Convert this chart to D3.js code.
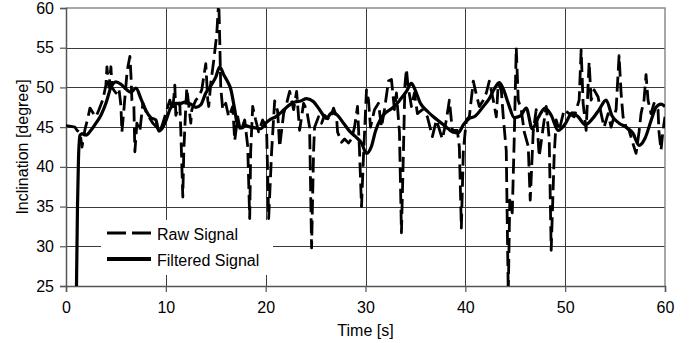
<!DOCTYPE html>
<html>
<head>
<meta charset="utf-8">
<script src="https://cdn.jsdelivr.net/npm/d3@7"></script>
<style>
  html, body { margin: 0; padding: 0; background: #fff; }
  svg { display: block; font-family: "Liberation Sans", Arial, sans-serif; }
</style>
</head>
<body>
<div id="chart"></div>
<script>
const xTicks = [0, 10, 20, 30, 40, 50, 60]
const yTicks = [25, 30, 35, 40, 45, 50, 55, 60]
const seriesNames = ['Raw Signal', 'Filtered Signal']

// [time s, inclination deg]
const rawSignal = [
  [0,45.2],[0.5,45.1],[0.9,45.0],[1.1,44.6],[1.4,44.3],[1.6,42.5],[1.9,44.7],[2.2,46.2],[2.4,47.4],[2.7,46.8],
  [3.0,46.3],[3.3,47.2],[3.7,48.5],[4.0,50.3],[4.1,52.6],[4.3,50.0],[4.5,52.6],[4.6,50.0],[5.0,49.3],[5.3,49.9],
  [5.5,47.7],[5.6,44.4],[5.8,47.2],[6.1,51.7],[6.2,52.6],[6.4,53.9],[6.5,51.7],[6.6,48.4],[6.8,47.6],[6.9,41.9],
  [7.1,45.5],[7.4,44.5],[7.7,48.0],[8.1,46.7],[8.4,46.1],[8.7,45.5],[9.1,45.0],[9.4,44.4],[9.7,45.5],[10.1,47.2],
  [10.4,48.4],[10.7,47.2],[10.9,50.3],[11.0,46.5],[11.4,48.0],[11.5,44.5],[11.7,36.2],[11.8,42.0],[12.0,47.6],[12.1,49.9],
  [12.5,45.5],[12.6,47.2],[13.0,48.4],[13.3,48.8],[13.6,49.7],[14.0,53.0],[14.2,48.4],[14.3,47.6],[14.5,50.5],[14.8,53.4],
  [15.1,56.7],[15.3,61.0],[15.4,56.0],[15.5,50.0],[15.7,47.2],[16.0,48.0],[16.3,46.3],[16.7,47.6],[16.9,43.3],[17.2,46.3],
  [17.5,44.4],[17.9,45.9],[18.2,42.6],[18.4,33.5],[18.5,42.0],[18.7,47.6],[19.0,45.9],[19.3,44.4],[19.7,45.9],[20.0,45.1],
  [20.1,44.4],[20.3,33.5],[20.6,42.0],[20.9,48.3],[21.2,47.0],[21.4,42.5],[21.8,46.7],[22.1,48.0],[22.4,49.5],[22.8,47.2],
  [23.1,49.5],[23.4,44.6],[23.8,48.0],[24.1,47.2],[24.4,45.0],[24.6,29.8],[24.8,42.0],[24.9,45.0],[25.3,46.3],[25.6,45.5],
  [25.9,46.5],[26.4,45.9],[26.8,47.4],[27.1,46.3],[27.2,44.4],[27.6,43.1],[27.9,43.5],[28.3,43.0],[28.6,43.5],[28.9,45.0],
  [29.2,47.6],[29.4,42.0],[29.6,35.0],[29.8,41.4],[30.1,49.7],[30.3,48.4],[30.5,45.0],[30.9,47.2],[31.3,48.0],[31.6,45.0],
  [31.9,47.2],[32.3,50.8],[32.6,51.0],[32.9,47.2],[33.1,49.3],[33.4,44.4],[33.6,31.7],[33.8,42.0],[33.95,50.3],[34.1,52.3],
  [34.25,50.3],[34.6,47.6],[34.9,49.3],[35.2,46.7],[35.7,47.2],[36.2,46.3],[36.7,43.8],[37.1,45.9],[37.7,43.5],[38.1,45.9],
  [38.4,48.4],[38.7,44.6],[39.2,44.6],[39.4,42.5],[39.6,32.3],[39.8,42.0],[40.1,45.9],[40.4,46.3],[40.8,50.8],[41.1,49.1],
  [41.4,47.6],[41.8,48.4],[42.1,49.3],[42.4,50.8],[42.8,48.4],[43.1,46.3],[43.3,50.5],[43.6,49.7],[43.8,46.3],[44.1,42.0],
  [44.3,24.0],[44.45,35.8],[44.7,34.2],[44.9,43.6],[45.1,55.0],[45.3,48.4],[45.6,47.2],[45.9,44.4],[46.3,42.6],[46.5,35.8],
  [46.8,44.4],[47.1,47.2],[47.4,41.3],[47.8,45.0],[48.1,47.6],[48.4,43.6],[48.6,29.5],[48.9,41.4],[49.1,45.9],[49.4,44.6],
  [49.9,47.2],[50.4,46.7],[50.9,46.3],[51.4,48.4],[51.6,54.7],[51.8,48.0],[52.1,44.6],[52.4,53.2],[52.6,48.4],[52.9,49.7],
  [53.3,48.8],[53.6,46.7],[53.9,45.0],[54.3,46.7],[54.6,45.0],[55.1,47.2],[55.4,54.0],[55.6,49.3],[55.8,46.3],[56.1,45.0],
  [56.4,44.6],[56.8,42.9],[57.1,41.7],[57.4,44.4],[57.6,46.7],[57.9,48.4],[58.1,51.6],[58.3,48.4],[58.6,46.7],[58.9,48.0],
  [59.3,47.2],[59.4,44.4],[59.6,42.1],[59.8,44.6],[60.0,46.3]
]

const filteredSignal = [
  [1.0,20],[1.15,35],[1.25,41],[1.4,44],[1.7,44.2],[2.0,44],[2.5,44.6],[3.0,45.5],[3.5,46.5],[4.0,48],
  [4.5,50],[5.0,50.7],[5.5,50.4],[6.0,49.8],[6.5,49.4],[7.0,49.9],[7.5,48.6],[8.0,47.1],[8.5,46.2],[9.0,45.9],
  [9.3,44.5],[9.6,44.8],[10.0,45.8],[10.4,47.2],[11.0,48],[11.5,48],[12.0,48.2],[12.5,47.9],[13.0,47.5],[13.5,47.8],
  [14.0,49.3],[14.5,50.2],[15.0,51.3],[15.4,52.6],[15.8,51.6],[16.2,50.7],[16.5,49.8],[16.9,47.2],[17.2,45.2],[17.6,44.9],
  [18.0,45.2],[18.5,45],[19.0,44.9],[19.5,44.8],[20.0,45.5],[20.5,46],[21.0,46.3],[21.5,46.8],[22.0,47.4],[22.5,47.9],
  [23.0,48.2],[23.5,48.3],[24.1,48.6],[24.8,48.2],[25.4,47.2],[26.1,46.1],[26.6,46.8],[27.0,46.7],[27.8,45.5],[28.4,44.5],
  [29.0,43.8],[29.6,43],[30.1,41.7],[30.6,42.6],[31.0,44.5],[31.5,46],[32.0,46.8],[32.8,47.5],[33.5,48.5],[34.1,49.5],
  [34.6,50.5],[35.0,49.6],[35.5,48],[36.2,47],[36.8,46.3],[37.5,45.6],[38.1,45],[38.7,44.4],[39.3,44.3],[39.8,45.3],
  [40.3,46],[41.0,46.4],[41.8,47.6],[42.4,48.6],[42.9,49.8],[43.4,50.6],[43.8,49.8],[44.3,48],[44.9,46.2],[45.5,46.4],
  [46.1,47.4],[46.7,44.8],[47.3,46.2],[48.0,47.4],[48.6,46.5],[49.3,44.6],[50.0,45.4],[50.7,46.8],[51.3,46.3],[52.0,45.3],
  [52.7,46.0],[53.4,47.2],[54.1,48.4],[54.7,46.4],[55.4,45.5],[56.1,45],[56.8,44.2],[57.4,42.7],[58.0,43.6],[58.6,45.8],
  [59.1,47.5],[59.6,47.9],[60.0,47.6]
]

const W = 693, H = 343
const plot = { left: 66, right: 665, top: 8, bottom: 286 }

const svg = d3.select('#chart').append('svg').attr('width', W).attr('height', H)

const x = d3.scaleLinear().domain([0, 60]).range([plot.left, plot.right])
const y = d3.scaleLinear().domain([25, 60]).range([plot.bottom, plot.top])

// ── Grid ────────────────────────────────────────────────────────────────
const grid = svg.append('g').attr('stroke', '#3a3a3a').attr('stroke-width', 1)
grid.selectAll('.gx').data(xTicks.slice(1, -1)).join('line')
  .attr('x1', d => Math.round(x(d)) + 0.5).attr('x2', d => Math.round(x(d)) + 0.5)
  .attr('y1', plot.top).attr('y2', plot.bottom)
grid.selectAll('.gy').data(yTicks.slice(1, -1)).join('line')
  .attr('y1', d => Math.round(y(d)) + 0.5).attr('y2', d => Math.round(y(d)) + 0.5)
  .attr('x1', plot.left).attr('x2', plot.right)

// frame top / right
svg.append('path')
  .attr('d', `M${plot.left},${plot.top}H${plot.right}V${plot.bottom}`)
  .attr('fill', 'none').attr('stroke', '#8a8a8a').attr('stroke-width', 1.5)

// ── Axes ────────────────────────────────────────────────────────────────
const xAxis = svg.append('g').attr('transform', `translate(0,${plot.bottom})`)
  .call(d3.axisBottom(x).tickValues(xTicks).tickSize(6).tickPadding(10).tickFormat(d3.format('d')))
const yAxis = svg.append('g').attr('transform', `translate(${plot.left},0)`)
  .call(d3.axisLeft(y).tickValues(yTicks).tickSize(6).tickPadding(6).tickFormat(d3.format('d')))
;[xAxis, yAxis].forEach(a => {
  a.select('.domain').attr('stroke', '#555').attr('stroke-width', 1.5)
  a.selectAll('.tick line').attr('stroke', '#555').attr('stroke-width', 1.2)
  a.selectAll('.tick text').attr('fill', '#000').style('font-size', '16px')
    .attr('font-family', '"Liberation Sans", Arial, sans-serif')
})

svg.append('text').attr('x', (plot.left + plot.right) / 2).attr('y', 336)
  .attr('text-anchor', 'middle').style('font-size', '16px').text('Time [s]')
svg.append('text').attr('transform', `translate(28,${(plot.top + plot.bottom) / 2}) rotate(-90)`)
  .attr('text-anchor', 'middle').style('font-size', '16px').text('Inclination [degree]')

// ── Series ──────────────────────────────────────────────────────────────
svg.append('clipPath').attr('id', 'clip').append('rect')
  .attr('x', plot.left).attr('y', plot.top)
  .attr('width', plot.right - plot.left).attr('height', plot.bottom - plot.top)

const g = svg.append('g').attr('clip-path', 'url(#clip)')

const rawLine = d3.line().x(d => x(d[0])).y(d => y(d[1]))
const filtLine = d3.line().x(d => x(d[0])).y(d => y(d[1])).curve(d3.curveMonotoneX)

g.append('path').datum(rawSignal).attr('d', rawLine)
  .attr('fill', 'none').attr('stroke', '#000').attr('stroke-width', 2.8)
  .attr('stroke-dasharray', '15,6').attr('stroke-linejoin', 'round')

g.append('path').datum(filteredSignal).attr('d', filtLine)
  .attr('fill', 'none').attr('stroke', '#000').attr('stroke-width', 3.2)
  .attr('stroke-linejoin', 'round')

// ── Legend ──────────────────────────────────────────────────────────────
const legend = svg.append('g')
legend.append('rect').attr('x', 101).attr('y', 220).attr('width', 172).attr('height', 55).attr('fill', '#fff')
seriesNames.forEach((name, i) => {
  const ly = 233 + i * 26
  legend.append('line').attr('x1', 107).attr('x2', 151).attr('y1', ly).attr('y2', ly)
    .attr('stroke', '#000').attr('stroke-width', i === 0 ? 3 : 4)
    .attr('stroke-dasharray', i === 0 ? '19,6' : null)
  legend.append('text').attr('x', 157).attr('y', ly + 7).style('font-size', '16px').text(name)
})
</script>
</body>
</html>
